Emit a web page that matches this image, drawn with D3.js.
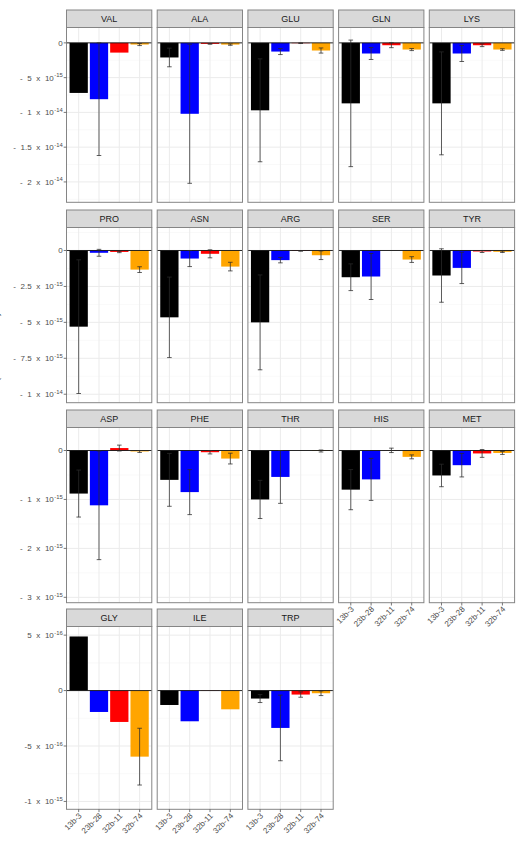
<!DOCTYPE html>
<html>
<head>
<meta charset="utf-8">
<script src="https://cdn.jsdelivr.net/npm/d3@7"></script>
<style>
  body { margin: 0; background: #fff; }
  svg { display: block; font-family: "Liberation Sans", Arial, sans-serif; }
</style>
</head>
<body>
<svg id="chart" width="522" height="842"></svg>
<script>
'use strict';
// values are in units of 1e-15
var UNIT = 1e-15;
var categories = ['13b-3', '23b-28', '32b-11', '32b-74'];
var aminoAcids = ['VAL', 'ALA', 'GLU', 'GLN', 'LYS',
                  'PRO', 'ASN', 'ARG', 'SER', 'TYR',
                  'ASP', 'PHE', 'THR', 'HIS', 'MET',
                  'GLY', 'ILE', 'TRP'];
var barColors = ['#000000', '#0000ff', '#ff0000', '#ffa500'];

var mean13b3  = [-7.2, -2.1, -9.7, -8.7, -8.7, -5.3, -4.65, -5.0, -1.86, -1.74, -0.88, -0.6, -1.0, -0.8, -0.51, 0.488, -0.13, -0.072];
var sd13b3    = [null, 1.34, 7.4, 9.1, 7.4, 4.65, 2.8, 3.3, 0.93, 1.86, 0.48, 0.54, 0.39, 0.41, 0.23, null, null, 0.036];
var mean23b28 = [-8.1, -10.2, -1.25, -1.53, -1.53, -0.16, -0.56, -0.67, -1.81, -1.21, -1.12, -0.85, -0.54, -0.59, -0.3, -0.193, -0.277, -0.337];
var sd23b28   = [8.1, 10.0, 0.43, 0.86, 1.15, 0.24, 0.56, 0.19, 1.6, 1.09, 1.11, 0.46, 0.54, 0.43, 0.24, null, null, 0.296];
var mean32b11 = [-1.4, -0.15, -0.05, -0.34, -0.34, -0.1, -0.23, -0.03, null, -0.07, 0.05, -0.035, null, 0.003, -0.06, -0.283, -0.002, -0.036];
var sd32b11   = [null, 0.05, 0.04, 0.35, 0.2, 0.05, 0.28, 0.02, null, 0.07, 0.06, 0.035, null, 0.045, 0.08, null, null, 0.024];
var mean32b74 = [-0.24, -0.25, -1.1, -0.96, -0.96, -1.33, -1.12, -0.33, -0.63, -0.09, -0.02, -0.165, -0.01, -0.13, -0.05, -0.596, -0.169, -0.024];
var sd32b74   = [0.15, 0.1, 0.37, 0.15, 0.12, 0.2, 0.3, 0.3, 0.2, 0.05, 0.02, 0.11, 0.02, 0.04, 0.03, 0.256, null, 0.021];

// one y scale per row of panels
var rowDomains = [[-22.93, 2.21], [-10.59, 1.6], [-3.11, 0.47], [-1.071, 0.578]];
var rowTicks = [[0, -5, -10, -15, -20],
                [0, -2.5, -5, -7.5, -10],
                [0, -1, -2, -3],
                [0.5, 0, -0.5, -1]];
var rowMinor = [[2.5, -2.5, -7.5, -12.5, -17.5, -22.5],
                [1.25, -1.25, -3.75, -6.25, -8.75],
                [-0.5, -1.5, -2.5],
                [0.25, -0.25, -0.75]];
var rowTickLabels = [['0', '- 5 x 10^-15', '- 1 x 10^-14', '- 1.5 x 10^-14', '- 2 x 10^-14'],
                     ['0', '- 2.5 x 10^-15', '- 5 x 10^-15', '- 7.5 x 10^-15', '- 1 x 10^-14'],
                     ['0', '- 1 x 10^-15', '- 2 x 10^-15', '- 3 x 10^-15'],
                     ['5 x 10^-16', '0', '-5 x 10^-16', '-1 x 10^-15']];

var series = [mean13b3, mean23b28, mean32b11, mean32b74];
var seriesSd = [sd13b3, sd23b28, sd32b11, sd32b74];

// layout
var svg = d3.select('#chart');
var colLeft = 66.5, colW = 85.3, colGap = 5.4, nCols = 5;
var stripTop = [10, 210, 410, 609], stripH = 17.5;
var panelBottom = [202.3, 402.7, 602.7, 809.3];

var x = d3.scaleBand().domain(categories).range([0, colW]).paddingInner(0.1).paddingOuter(0.15);

// plotmath-like label: wide gaps between tokens, exponent raised
function addLabel(sel, label) {
    var parts = label.split('^');
    parts[0].split(' ').forEach(function (tok, i) {
        sel.append('tspan').attr('dx', i ? 4.6 : 0).text(tok);
    });
    if (parts.length > 1) {
        sel.append('tspan').attr('dx', 0.4).attr('dy', -3.4).attr('font-size', 5.9).text(parts[1]);
    }
}

// y-axis title, mostly outside the picture (as in the source image)
svg.append('text')
        .attr('transform', 'translate(-0.8,347) rotate(-90)')
        .attr('text-anchor', 'middle')
        .attr('font-size', 11)
        .attr('fill', '#333')
        .text('(mol cell\u207B\u00B9 h\u207B\u00B9)');

aminoAcids.forEach(function (aa, k) {
    var row = Math.floor(k / nCols), col = k % nCols;
    var left = colLeft + col * (colW + colGap);
    var top = stripTop[row] + stripH, bottom = panelBottom[row];
    var y = d3.scaleLinear().domain(rowDomains[row].map(function (v) { return v * UNIT; })).range([bottom, top]);
    var g = svg.append('g').attr('transform', 'translate(' + left + ',0)');

    g.append('rect').attr('x', 0).attr('y', top).attr('width', colW).attr('height', bottom - top).attr('fill', '#fff');
    // grid
    g.selectAll('.minor').data(rowMinor[row]).enter().append('line')
            .attr('x1', 0).attr('x2', colW)
            .attr('y1', function (d) { return y(d * UNIT); })
            .attr('y2', function (d) { return y(d * UNIT); })
            .attr('stroke', '#f2f2f2').attr('stroke-width', 0.5);
    g.selectAll('.major').data(rowTicks[row]).enter().append('line')
            .attr('x1', 0).attr('x2', colW)
            .attr('y1', function (d) { return y(d * UNIT); })
            .attr('y2', function (d) { return y(d * UNIT); })
            .attr('stroke', '#ebebeb').attr('stroke-width', 1);
    g.selectAll('.vgrid').data(categories).enter().append('line')
            .attr('x1', function (d) { return x(d) + x.bandwidth() / 2; })
            .attr('x2', function (d) { return x(d) + x.bandwidth() / 2; })
            .attr('y1', top).attr('y2', bottom)
            .attr('stroke', '#ebebeb').attr('stroke-width', 1);

    var rows = categories.map(function (c, i) {
        return {cat: c, v: series[i][k], sd: seriesSd[i][k], color: barColors[i]};
    });
    // bars
    g.selectAll('.bar').data(rows.filter(function (d) { return d.v !== null; })).enter().append('rect')
            .attr('x', function (d) { return x(d.cat); })
            .attr('width', x.bandwidth())
            .attr('y', function (d) { return Math.min(y(0), y(d.v * UNIT)); })
            .attr('height', function (d) { return Math.abs(y(d.v * UNIT) - y(0)); })
            .attr('fill', function (d) { return d.color; });
    // zero line
    g.append('line').attr('x1', 0).attr('x2', colW).attr('y1', y(0)).attr('y2', y(0))
            .attr('stroke', '#111').attr('stroke-width', 0.9);
    // error bars
    var eb = g.selectAll('.err').data(rows.filter(function (d) { return d.v !== null && d.sd !== null; })).enter().append('g');
    var cx = function (d) { return x(d.cat) + x.bandwidth() / 2; };
    eb.append('line')
            .attr('x1', cx).attr('x2', cx)
            .attr('y1', function (d) { return y((d.v + d.sd) * UNIT); })
            .attr('y2', function (d) { return y((d.v - d.sd) * UNIT); })
            .attr('stroke', '#2b2b2b').attr('stroke-width', 0.75);
    [1, -1].forEach(function (s) {
        eb.append('line')
                .attr('x1', function (d) { return cx(d) - 2.3; })
                .attr('x2', function (d) { return cx(d) + 2.3; })
                .attr('y1', function (d) { return y((d.v + s * d.sd) * UNIT); })
                .attr('y2', function (d) { return y((d.v + s * d.sd) * UNIT); })
                .attr('stroke', '#2b2b2b').attr('stroke-width', 0.75);
    });
    // border
    g.append('rect').attr('x', 0).attr('y', top).attr('width', colW).attr('height', bottom - top)
            .attr('fill', 'none').attr('stroke', '#858585').attr('stroke-width', 1);
    // strip
    g.append('rect').attr('x', 0).attr('y', stripTop[row]).attr('width', colW).attr('height', stripH)
            .attr('fill', '#d9d9d9').attr('stroke', '#858585').attr('stroke-width', 1);
    g.append('text').attr('x', colW / 2).attr('y', stripTop[row] + stripH / 2 + 3.3)
            .attr('text-anchor', 'middle').attr('font-size', 9).attr('fill', '#1a1a1a').text(aa);

    // y axis on first column
    if (col === 0) {
        rowTicks[row].forEach(function (t, i) {
            var yy = y(t * UNIT);
            g.append('line').attr('x1', -2.8).attr('x2', 0).attr('y1', yy).attr('y2', yy)
                    .attr('stroke', '#555').attr('stroke-width', 0.8);
            var txt = g.append('text').attr('x', -3.8).attr('y', yy + 2.9)
                    .attr('text-anchor', 'end').attr('font-size', 8)
                    .attr('fill', '#4d4d4d');
            addLabel(txt, rowTickLabels[row][i]);
        });
    }
    // x axis where no panel sits below
    if (k + nCols >= aminoAcids.length) {
        categories.forEach(function (c) {
            var xx = x(c) + x.bandwidth() / 2;
            g.append('line').attr('x1', xx).attr('x2', xx).attr('y1', bottom).attr('y2', bottom + 2.8)
                    .attr('stroke', '#555').attr('stroke-width', 0.8);
            g.append('text')
                    .attr('transform', 'translate(' + (xx + 3.5) + ',' + (bottom + 7) + ') rotate(-45)')
                    .attr('text-anchor', 'end').attr('font-size', 8).attr('fill', '#4d4d4d')
                    .text(c);
        });
    }
});
</script>
</body>
</html>
